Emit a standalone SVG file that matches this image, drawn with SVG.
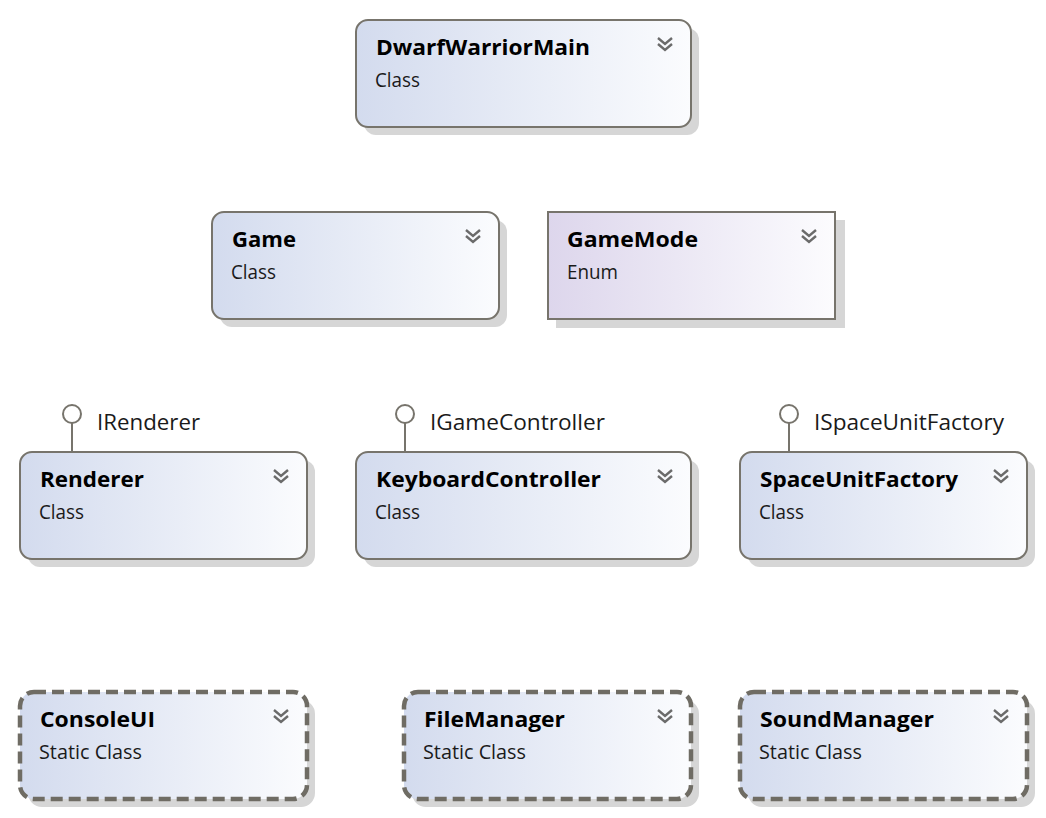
<svg xmlns="http://www.w3.org/2000/svg" width="1046" height="818" viewBox="0 0 1046 818">
<defs>
<linearGradient id="gc" x1="0" y1="0" x2="1" y2="0">
<stop offset="0" stop-color="#d3dbee"/>
<stop offset="1" stop-color="#fbfcfe"/>
</linearGradient>
<linearGradient id="ge" x1="0" y1="0" x2="1" y2="0">
<stop offset="0" stop-color="#ddd6ec"/>
<stop offset="1" stop-color="#fcfcfe"/>
</linearGradient>
<symbol id="chev" viewBox="0 0 16 16">
<path d="M1 2 L8 8 L15 2 M1 8 L8 14 L15 8" fill="none" stroke="#6b6b6b" stroke-width="2.4"/>
</symbol>
</defs>
<style>
.sh{fill:#d6d6d6}
.box{fill:url(#gc);stroke:#77746c;stroke-width:2}
.enum{fill:url(#ge);stroke:#77746c;stroke-width:2}
.stat{fill:url(#gc);stroke:#6f6c64;stroke-width:4.5;stroke-dasharray:12 6}
.t{font-family:"Open Sans","Noto Sans","DejaVu Sans",sans-serif;font-weight:bold;font-size:22px;fill:#000}
.s{font-family:"Open Sans","Noto Sans","DejaVu Sans",sans-serif;font-size:19.5px;fill:#1a1a1a}
.l{font-family:"Open Sans","Noto Sans","DejaVu Sans",sans-serif;font-size:22px;fill:#1a1a1a}
.lol{fill:#fff;stroke:#77746c;stroke-width:2}
.stem{stroke:#77746c;stroke-width:2}
</style>
<rect width="1046" height="818" fill="#fff"/>
<g id="connectors">
<line class="stem" x1="72" y1="423" x2="72" y2="452"/>
<circle class="lol" cx="72" cy="414" r="9"/>
<line class="stem" x1="405" y1="423" x2="405" y2="452"/>
<circle class="lol" cx="405" cy="414" r="9"/>
<line class="stem" x1="789" y1="423" x2="789" y2="452"/>
<circle class="lol" cx="789" cy="414" r="9"/>
</g>
<g id="DwarfWarriorMain">
<rect class="sh" x="364" y="28" width="335" height="107" rx="12"/>
<rect class="box" x="356" y="20" width="335" height="107" rx="12"/>
<text class="t" x="376" y="55" textLength="214" lengthAdjust="spacingAndGlyphs">DwarfWarriorMain</text>
<text class="s" x="375" y="87" textLength="45" lengthAdjust="spacingAndGlyphs">Class</text>
<use href="#chev" x="657" y="36" width="16" height="16"/>
</g>
<g id="Game">
<rect class="sh" x="220" y="220" width="287" height="107" rx="12"/>
<rect class="box" x="212" y="212" width="287" height="107" rx="12"/>
<text class="t" x="232" y="247" textLength="64" lengthAdjust="spacingAndGlyphs">Game</text>
<text class="s" x="231" y="279" textLength="45" lengthAdjust="spacingAndGlyphs">Class</text>
<use href="#chev" x="465" y="228" width="16" height="16"/>
</g>
<g id="GameMode">
<rect class="sh" x="556" y="220" width="289" height="108"/>
<rect class="enum" x="548" y="212" width="287" height="107"/>
<text class="t" x="567" y="247" textLength="131" lengthAdjust="spacingAndGlyphs">GameMode</text>
<text class="s" x="567" y="279" textLength="51" lengthAdjust="spacingAndGlyphs">Enum</text>
<use href="#chev" x="801" y="228" width="16" height="16"/>
</g>
<g id="Renderer">
<text class="l" x="97" y="430" textLength="103" lengthAdjust="spacingAndGlyphs">IRenderer</text>
<rect class="sh" x="28" y="460" width="287" height="107" rx="12"/>
<rect class="box" x="20" y="452" width="287" height="107" rx="12"/>
<text class="t" x="40" y="487" textLength="104" lengthAdjust="spacingAndGlyphs">Renderer</text>
<text class="s" x="39" y="519" textLength="45" lengthAdjust="spacingAndGlyphs">Class</text>
<use href="#chev" x="273" y="468" width="16" height="16"/>
</g>
<g id="KeyboardController">
<text class="l" x="430" y="430" textLength="175" lengthAdjust="spacingAndGlyphs">IGameController</text>
<rect class="sh" x="364" y="460" width="335" height="107" rx="12"/>
<rect class="box" x="356" y="452" width="335" height="107" rx="12"/>
<text class="t" x="376" y="487" textLength="225" lengthAdjust="spacingAndGlyphs">KeyboardController</text>
<text class="s" x="375" y="519" textLength="45" lengthAdjust="spacingAndGlyphs">Class</text>
<use href="#chev" x="657" y="468" width="16" height="16"/>
</g>
<g id="SpaceUnitFactory">
<text class="l" x="814" y="430" textLength="190" lengthAdjust="spacingAndGlyphs">ISpaceUnitFactory</text>
<rect class="sh" x="748" y="460" width="287" height="107" rx="12"/>
<rect class="box" x="740" y="452" width="287" height="107" rx="12"/>
<text class="t" x="760" y="487" textLength="198" lengthAdjust="spacingAndGlyphs">SpaceUnitFactory</text>
<text class="s" x="759" y="519" textLength="45" lengthAdjust="spacingAndGlyphs">Class</text>
<use href="#chev" x="993" y="468" width="16" height="16"/>
</g>
<g id="ConsoleUI">
<rect class="sh" x="28" y="700" width="287" height="107" rx="14"/>
<rect class="stat" x="20" y="692" width="287" height="107" rx="14"/>
<text class="t" x="40" y="727" textLength="115" lengthAdjust="spacingAndGlyphs">ConsoleUI</text>
<text class="s" x="39" y="759" textLength="103" lengthAdjust="spacingAndGlyphs">Static Class</text>
<use href="#chev" x="273" y="708" width="16" height="16"/>
</g>
<g id="FileManager">
<rect class="sh" x="412" y="700" width="287" height="107" rx="14"/>
<rect class="stat" x="404" y="692" width="287" height="107" rx="14"/>
<text class="t" x="424" y="727" textLength="141" lengthAdjust="spacingAndGlyphs">FileManager</text>
<text class="s" x="423" y="759" textLength="103" lengthAdjust="spacingAndGlyphs">Static Class</text>
<use href="#chev" x="657" y="708" width="16" height="16"/>
</g>
<g id="SoundManager">
<rect class="sh" x="748" y="700" width="287" height="107" rx="14"/>
<rect class="stat" x="740" y="692" width="287" height="107" rx="14"/>
<text class="t" x="760" y="727" textLength="174" lengthAdjust="spacingAndGlyphs">SoundManager</text>
<text class="s" x="759" y="759" textLength="103" lengthAdjust="spacingAndGlyphs">Static Class</text>
<use href="#chev" x="993" y="708" width="16" height="16"/>
</g>
</svg>
